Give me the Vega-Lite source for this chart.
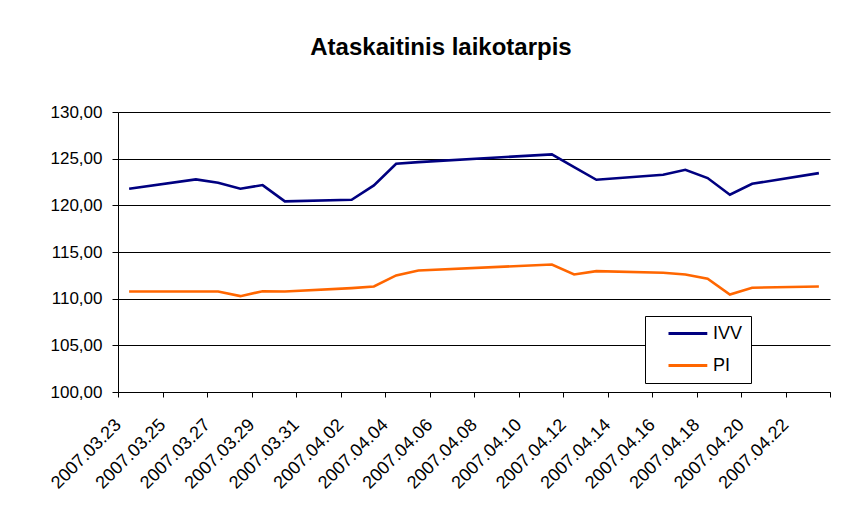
{
  "$schema": "https://vega.github.io/schema/vega-lite/v6.json",
  "width": 712,
  "height": 280,
  "autosize": {"type": "none"},
  "padding": {"left": 118, "top": 112, "right": 31, "bottom": 119},
  "background": "white",
  "config": {
    "view": {"stroke": null},
    "font": "Liberation Sans"
  },
  "title": {
    "text": "Ataskaitinis laikotarpis",
    "font": "Liberation Sans",
    "fontSize": 24,
    "fontWeight": "bold",
    "color": "black",
    "anchor": "middle",
    "dx": -33,
    "baseline": "alphabetic",
    "offset": 24
  },
  "data": {
    "values": [
      {"date": "2007/03/23", "series": "IVV", "value": 121.78},
      {"date": "2007/03/26", "series": "IVV", "value": 122.78},
      {"date": "2007/03/27", "series": "IVV", "value": 122.42},
      {"date": "2007/03/28", "series": "IVV", "value": 121.78},
      {"date": "2007/03/29", "series": "IVV", "value": 122.17},
      {"date": "2007/03/30", "series": "IVV", "value": 120.42},
      {"date": "2007/04/02", "series": "IVV", "value": 120.6},
      {"date": "2007/04/03", "series": "IVV", "value": 122.13},
      {"date": "2007/04/04", "series": "IVV", "value": 124.46},
      {"date": "2007/04/05", "series": "IVV", "value": 124.63},
      {"date": "2007/04/11", "series": "IVV", "value": 125.46},
      {"date": "2007/04/12", "series": "IVV", "value": 124.1},
      {"date": "2007/04/13", "series": "IVV", "value": 122.74},
      {"date": "2007/04/16", "series": "IVV", "value": 123.28},
      {"date": "2007/04/17", "series": "IVV", "value": 123.81},
      {"date": "2007/04/18", "series": "IVV", "value": 122.92},
      {"date": "2007/04/19", "series": "IVV", "value": 121.13},
      {"date": "2007/04/20", "series": "IVV", "value": 122.31},
      {"date": "2007/04/23", "series": "IVV", "value": 123.45},
      {"date": "2007/03/23", "series": "PI", "value": 110.77},
      {"date": "2007/03/26", "series": "PI", "value": 110.77},
      {"date": "2007/03/27", "series": "PI", "value": 110.77},
      {"date": "2007/03/28", "series": "PI", "value": 110.27},
      {"date": "2007/03/29", "series": "PI", "value": 110.8},
      {"date": "2007/03/30", "series": "PI", "value": 110.77},
      {"date": "2007/04/02", "series": "PI", "value": 111.13},
      {"date": "2007/04/03", "series": "PI", "value": 111.3},
      {"date": "2007/04/04", "series": "PI", "value": 112.49},
      {"date": "2007/04/05", "series": "PI", "value": 113.02},
      {"date": "2007/04/11", "series": "PI", "value": 113.66},
      {"date": "2007/04/12", "series": "PI", "value": 112.59},
      {"date": "2007/04/13", "series": "PI", "value": 112.95},
      {"date": "2007/04/16", "series": "PI", "value": 112.77},
      {"date": "2007/04/17", "series": "PI", "value": 112.59},
      {"date": "2007/04/18", "series": "PI", "value": 112.13},
      {"date": "2007/04/19", "series": "PI", "value": 110.45},
      {"date": "2007/04/20", "series": "PI", "value": 111.17},
      {"date": "2007/04/23", "series": "PI", "value": 111.31}
    ]
  },
  "mark": {"type": "line", "strokeWidth": 2.6, "interpolate": "linear"},
  "encoding": {
    "x": {
      "field": "date",
      "type": "temporal",
      "timeUnit": "yearmonthdate",
      "bandPosition": 0.5,
      "scale": {
        "domain": [
          {"year": 2007, "month": 3, "date": 23},
          {"year": 2007, "month": 4, "date": 24}
        ]
      },
      "axis": {
        "title": null,
        "grid": false,
        "values": [
          {"year": 2007, "month": 3, "date": 23},
          {"year": 2007, "month": 3, "date": 25},
          {"year": 2007, "month": 3, "date": 27},
          {"year": 2007, "month": 3, "date": 29},
          {"year": 2007, "month": 3, "date": 31},
          {"year": 2007, "month": 4, "date": 2},
          {"year": 2007, "month": 4, "date": 4},
          {"year": 2007, "month": 4, "date": 6},
          {"year": 2007, "month": 4, "date": 8},
          {"year": 2007, "month": 4, "date": 10},
          {"year": 2007, "month": 4, "date": 12},
          {"year": 2007, "month": 4, "date": 14},
          {"year": 2007, "month": 4, "date": 16},
          {"year": 2007, "month": 4, "date": 18},
          {"year": 2007, "month": 4, "date": 20},
          {"year": 2007, "month": 4, "date": 22},
          {"year": 2007, "month": 4, "date": 24}
        ],
        "labelExpr": "datum.value >= datetime(2007, 3, 23, 12) ? '' : timeFormat(datum.value, '%Y.%m.%d')",
        "labelAngle": -45,
        "labelAlign": "right",
        "labelBaseline": "middle",
        "labelOffset": 0,
        "labelPadding": 25,
        "labelFontSize": 18,
        "labelFont": "Liberation Sans",
        "labelColor": "black",
        "labelOverlap": false,
        "labelFlush": false,
        "labelBound": false,
        "tickSize": 5,
        "tickColor": "black",
        "domainColor": "black",
        "domainWidth": 1
      }
    },
    "y": {
      "field": "value",
      "type": "quantitative",
      "scale": {"domain": [100, 130], "nice": false, "zero": false},
      "axis": {
        "title": null,
        "values": [100, 105, 110, 115, 120, 125, 130],
        "labelExpr": "replace(format(datum.value, '.2f'), '.', ',')",
        "grid": true,
        "gridColor": "black",
        "gridWidth": 1,
        "gridOpacity": 1,
        "tickSize": 6,
        "tickColor": "black",
        "domainColor": "black",
        "labelPadding": 10,
        "labelFontSize": 17,
        "labelFont": "Liberation Sans",
        "labelColor": "black"
      }
    },
    "color": {
      "field": "series",
      "type": "nominal",
      "scale": {"domain": ["IVV", "PI"], "range": ["#000080", "#FF6600"]},
      "legend": {
        "title": null,
        "orient": "none",
        "legendX": 527,
        "legendY": 204,
        "fillColor": "white",
        "strokeColor": "black",
        "padding": 8,
        "rowPadding": 13,
        "symbolType": "M0.75,0H5.6",
        "symbolSize": 256,
        "symbolStrokeWidth": 3,
        "labelOffset": 41,
        "labelFontSize": 18,
        "labelFont": "Liberation Sans",
        "labelColor": "black"
      }
    }
  }
}
